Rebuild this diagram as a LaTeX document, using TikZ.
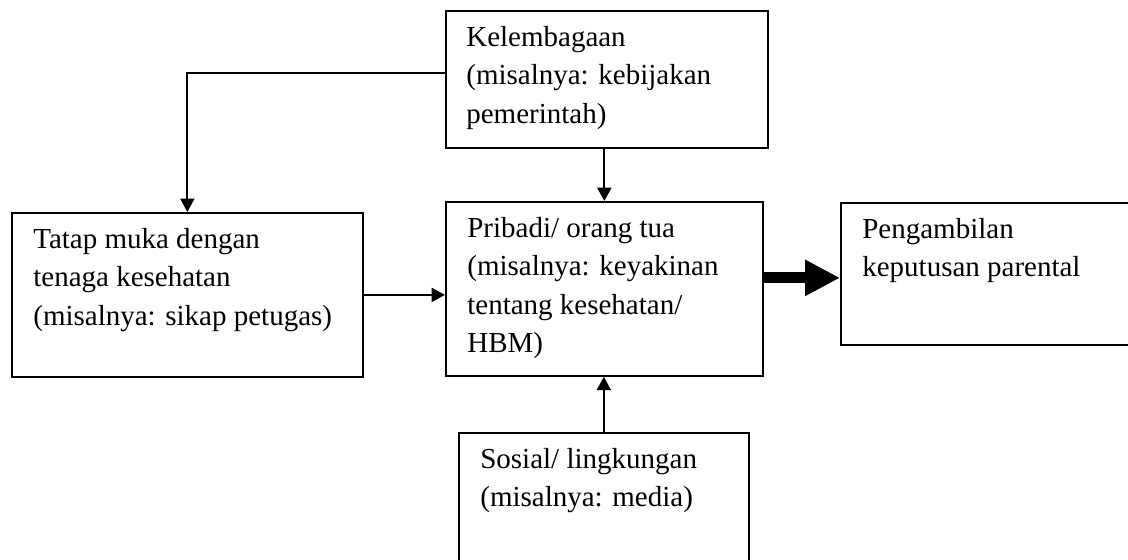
\documentclass[tikz,border=0pt]{standalone}
\usepackage{fontspec}
\setmainfont{Liberation Serif}
\usetikzlibrary{arrows.meta}

\tikzset{
  box/.style={draw,line width=1pt,anchor=north west,inner sep=0pt},
  txt/.style={anchor=north west,inner sep=0pt,align=left,
    font=\fontsize{16.5}{21.8}\selectfont,execute at begin node=\strut},
  arr/.style={line width=1.3pt,-{Triangle[length=0.27cm,width=0.28cm]}},
  bigarr/.style={line width=6.3pt,-{Triangle[length=0.7cm,width=0.68cm]}}
}

\begin{document}
\begin{tikzpicture}[x=0.02cm,y=-0.02cm]
  \useasboundingbox (0,0) rectangle (1128,559);
  % boxes
  \node[box,minimum width=6.44cm,minimum height=2.74cm] (kel) at (445,10) {};
  \node[box,minimum width=7.02cm,minimum height=3.28cm] (tatap) at (11,212) {};
  \node[box,minimum width=6.34cm,minimum height=3.48cm] (pribadi) at (445,201) {};
  \node[box,minimum width=6cm,minimum height=2.84cm] (keputusan) at (840,202) {};
  \node[box,minimum width=5.8cm,minimum height=2.8cm] (sosial) at (458,432) {};
  % texts
  \node[txt] (kelt) at ([xshift=0.42cm,yshift=-0.32cm]kel.north west)
    {Kelembagaan\\(misalnya: kebijakan\\pemerintah)};
  \node[txt] (tatapt) at ([xshift=0.44cm,yshift=-0.32cm]tatap.north west)
    {Tatap muka dengan\\tenaga kesehatan\\(misalnya: sikap petugas)};
  \node[txt] (pribadit) at ([xshift=0.44cm,yshift=-0.32cm]pribadi.north west)
    {Pribadi/ orang tua\\(misalnya: keyakinan\\tentang kesehatan/\\HBM)};
  \node[txt] (keputusant) at ([xshift=0.44cm,yshift=-0.32cm]keputusan.north west)
    {Pengambilan\\keputusan parental};
  \node[txt] (sosialt) at ([xshift=0.44cm,yshift=-0.32cm]sosial.north west)
    {Sosial/ lingkungan\\(misalnya: media)};
  % arrows
  \coordinate (kout) at ([yshift=0.13cm]kel.west);
  \coordinate (pin) at ([yshift=-0.08cm]keputusan.west);
  \draw[arr] (kout) -| (tatap.north);
  \draw[arr] (pribadi.north |- kel.south) -- (pribadi.north);
  \draw[arr] (tatap.east) -- (tatap.east -| pribadi.west);
  \draw[arr] (sosial.north) -- (sosial.north |- pribadi.south);
  \draw[bigarr] (pribadi.east |- pin) -- (pin);
\end{tikzpicture}
\end{document}
